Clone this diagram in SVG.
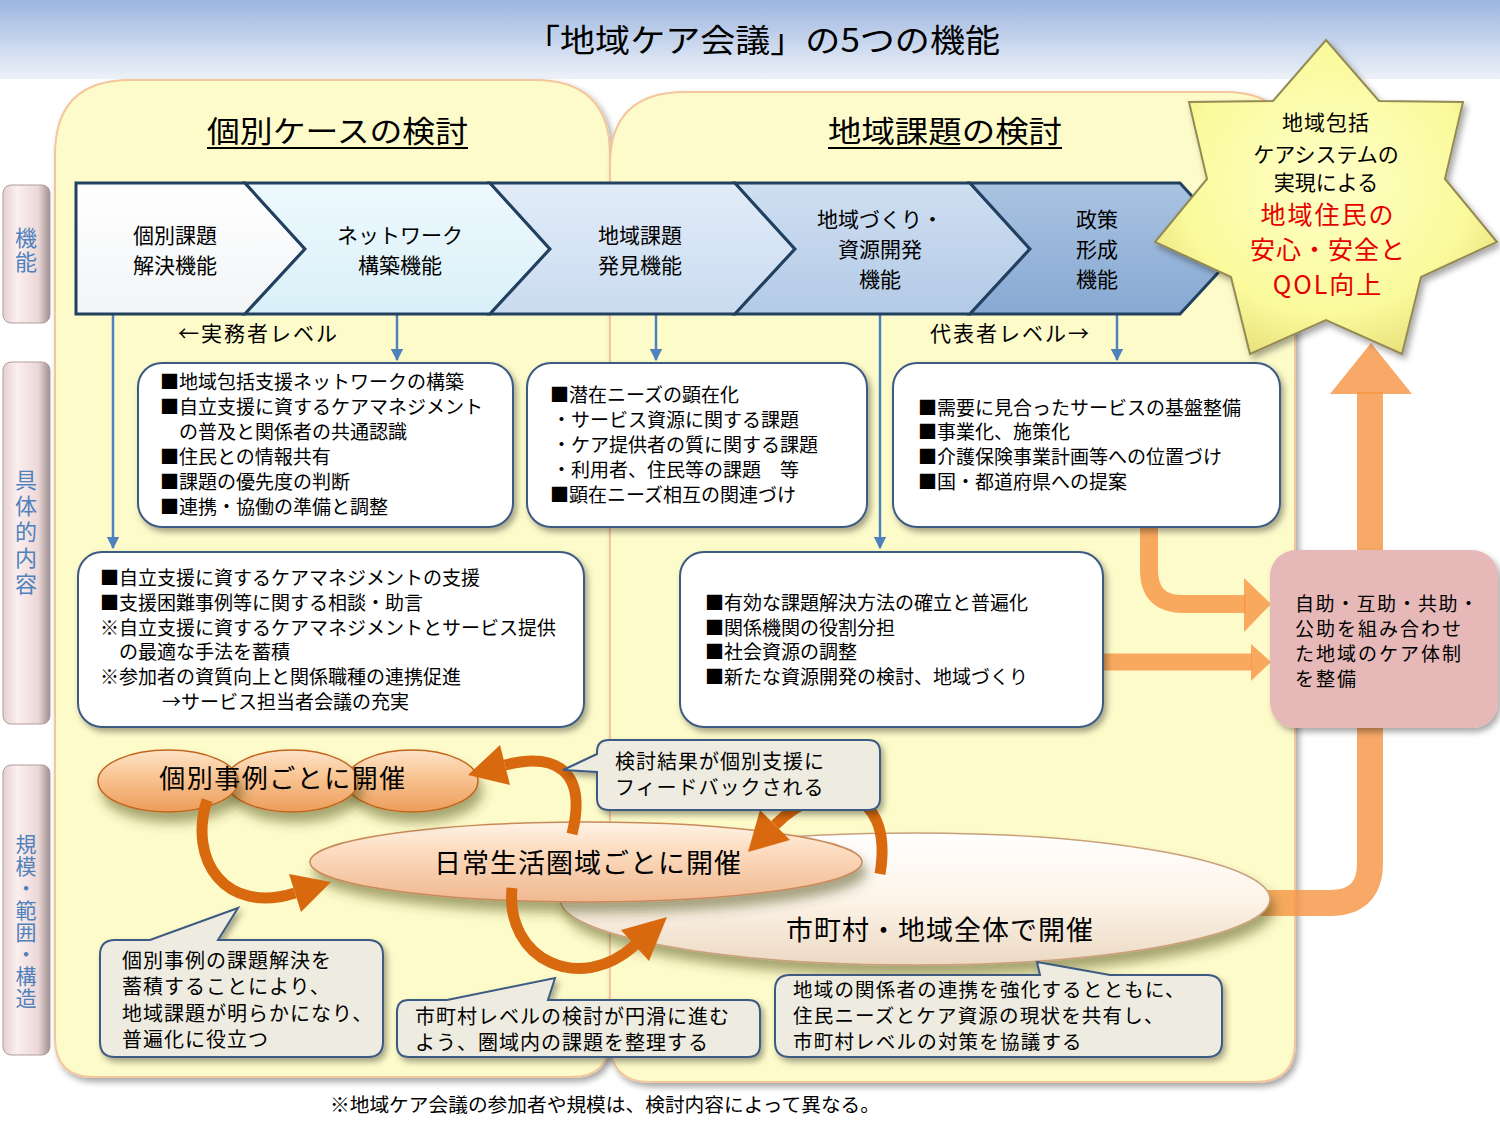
<svg xmlns="http://www.w3.org/2000/svg" width="1500" height="1125" viewBox="0 0 1500 1125">
<style>
.t{font-family:"Noto Sans CJK JP","Noto Sans",sans-serif;fill:#000}
.bx{font-size:19px}
.co{font-size:20px;letter-spacing:1px}
.ch{font-size:21px;text-anchor:middle}
.lb{font-family:"Noto Sans CJK JP","Noto Sans",sans-serif;fill:#4f81bd;writing-mode:vertical-rl}
.box{fill:#fff;stroke:#3c5a82;stroke-width:2;filter:url(#sh)}
.call{fill:#eeece1;stroke:#3c5a82;stroke-width:2;filter:url(#sh)}
.chev{stroke:#22405f;stroke-width:3;stroke-linejoin:miter}
.blue{stroke:#4f81bd;stroke-width:2.5;fill:none;marker-end:url(#ba)}
.og{fill:#f79646;opacity:0.82}
.ogs{stroke:#f79646;opacity:0.82;fill:none}
.ca{stroke:#d8690f;stroke-width:11;fill:none}
.cah{fill:#d8690f}
</style>
<defs>
<linearGradient id="band" x1="0" y1="0" x2="0" y2="1"><stop offset="0" stop-color="#9bb5df"/><stop offset="1" stop-color="#eef2f9"/></linearGradient>
<linearGradient id="lab" x1="0" y1="0" x2="1" y2="0"><stop offset="0" stop-color="#e4cfcf"/><stop offset="0.3" stop-color="#fbefef"/><stop offset="0.75" stop-color="#ecd7d7"/><stop offset="1" stop-color="#9e8f8f"/></linearGradient>
<linearGradient id="c1" x1="0" y1="0" x2="0" y2="1"><stop offset="0" stop-color="#ffffff"/><stop offset="1" stop-color="#f2f4f6"/></linearGradient>
<linearGradient id="c2" x1="0" y1="0" x2="0" y2="1"><stop offset="0" stop-color="#eef9fd"/><stop offset="1" stop-color="#d9f0f8"/></linearGradient>
<linearGradient id="c3" x1="0" y1="0" x2="0" y2="1"><stop offset="0" stop-color="#e2ecf8"/><stop offset="1" stop-color="#cadbf0"/></linearGradient>
<linearGradient id="c4" x1="0" y1="0" x2="0" y2="1"><stop offset="0" stop-color="#cfdff2"/><stop offset="1" stop-color="#b3cae6"/></linearGradient>
<linearGradient id="c5" x1="0" y1="0" x2="0" y2="1"><stop offset="0" stop-color="#aac3e2"/><stop offset="1" stop-color="#87a9d2"/></linearGradient>
<radialGradient id="star" cx="0.5" cy="0.45" r="0.6"><stop offset="0" stop-color="#ffffc8"/><stop offset="0.7" stop-color="#fafa9c"/><stop offset="1" stop-color="#e6e07a"/></radialGradient>
<linearGradient id="pe" x1="0" y1="0" x2="0" y2="1"><stop offset="0" stop-color="#fff3e6"/><stop offset="0.35" stop-color="#fcdcc0"/><stop offset="1" stop-color="#f0b890"/></linearGradient>
<linearGradient id="po" x1="0" y1="0" x2="0" y2="1"><stop offset="0" stop-color="#fde3c8"/><stop offset="0.4" stop-color="#f9c796"/><stop offset="1" stop-color="#ec9c5a"/></linearGradient>
<linearGradient id="cr" x1="0" y1="0" x2="0" y2="1"><stop offset="0" stop-color="#ffffff"/><stop offset="0.5" stop-color="#fdf4e8"/><stop offset="1" stop-color="#ecd9c4"/></linearGradient>
<filter id="sh" x="-10%" y="-10%" width="125%" height="130%"><feDropShadow dx="3" dy="4" stdDeviation="3" flood-color="#000" flood-opacity="0.35"/></filter>
<filter id="sh2" x="-10%" y="-20%" width="125%" height="160%"><feDropShadow dx="4" dy="10" stdDeviation="6" flood-color="#3a3a00" flood-opacity="0.45"/></filter>
<marker id="ba" viewBox="0 0 10 10" refX="9" refY="5" markerWidth="5" markerHeight="5" orient="auto"><path d="M0,0 L10,5 L0,10 Z" fill="#4f81bd"/></marker>
</defs>

<rect x="0" y="0" width="1500" height="1125" fill="#fff"/>
<rect x="0" y="0" width="1500" height="79" fill="url(#band)"/>
<text class="t" x="525" y="52" font-size="32" textLength="475" lengthAdjust="spacingAndGlyphs">「地域ケア会議」の5つの機能</text>

<g id="labels">
<g id="label-kino"><rect x="3" y="185" width="47" height="138" rx="8" fill="url(#lab)" stroke="#b39c9c"/>
<text class="lb" x="26" y="227" font-size="22" letter-spacing="2">機能</text></g>
<g id="label-gutai"><rect x="3" y="362" width="47" height="362" rx="8" fill="url(#lab)" stroke="#b39c9c"/>
<text class="lb" x="26" y="469" font-size="22" letter-spacing="4">具体的内容</text></g>
<g id="label-kibo"><rect x="3" y="765" width="47" height="290" rx="8" fill="url(#lab)" stroke="#b39c9c"/>
<text class="lb" x="26" y="834" font-size="21" letter-spacing="1">規模・範囲・構造</text></g>
</g>

<g id="panels">
<path d="M55,155 Q55,80 130,80 L535,80 Q610,80 610,155 L610,1038 Q610,1077 571,1077 L94,1077 Q55,1077 55,1038 Z" fill="#fefbca" stroke="#f3c69c" stroke-width="2" filter="url(#sh)"/>
<path d="M610,165 Q610,92 685,92 L1225,92 Q1295,92 1295,162 L1295,1042 Q1295,1082 1255,1082 L650,1082 Q610,1082 610,1042 Z" fill="#fefbca" stroke="#f3c69c" stroke-width="2" filter="url(#sh)"/>
<text class="t" x="207" y="142" font-size="30" textLength="261" lengthAdjust="spacingAndGlyphs">個別ケースの検討</text>
<line x1="207" y1="148" x2="468" y2="148" stroke="#000" stroke-width="2"/>
<text class="t" x="828" y="142" font-size="30" textLength="234" lengthAdjust="spacingAndGlyphs">地域課題の検討</text>
<line x1="828" y1="148" x2="1062" y2="148" stroke="#000" stroke-width="2"/>
</g>

<g id="connectors">
<g id="big-arrows">
<path class="ogs" stroke-width="18" d="M1149,527 L1149,570 Q1149,604 1183,604 L1246,604"/>
<polygon class="og" points="1244,578 1271,604 1244,632"/>
<path class="ogs" stroke-width="17" d="M1100,662 L1252,662"/>
<polygon class="og" points="1251,644 1271,662 1251,681"/>
<path class="ogs" stroke-width="26" d="M1250,903 L1330,903 Q1370,903 1370,863 L1370,392"/>
<polygon class="og" points="1330,394 1371,343 1412,394"/>
</g>
<line class="blue" x1="113" y1="314" x2="113" y2="548"/>
<line class="blue" x1="397" y1="314" x2="397" y2="360"/>
<line class="blue" x1="656" y1="314" x2="656" y2="360"/>
<line class="blue" x1="880" y1="314" x2="880" y2="548"/>
<line class="blue" x1="1117" y1="314" x2="1117" y2="360"/>
</g>

<g id="chevrons">
<g id="chev1"><polygon class="chev" fill="url(#c1)" points="76,183 245,183 305,249 245,314 76,314"/>
<text class="t ch" x="175" y="243">個別課題</text><text class="t ch" x="175" y="273">解決機能</text></g>
<g id="chev2"><polygon class="chev" fill="url(#c2)" points="245,183 490,183 550,249 490,314 245,314 305,249"/>
<text class="t ch" x="400" y="243">ネットワーク</text><text class="t ch" x="400" y="273">構築機能</text></g>
<g id="chev3"><polygon class="chev" fill="url(#c3)" points="490,183 735,183 795,249 735,314 490,314 550,249"/>
<text class="t ch" x="640" y="243">地域課題</text><text class="t ch" x="640" y="273">発見機能</text></g>
<g id="chev4"><polygon class="chev" fill="url(#c4)" points="735,183 970,183 1030,249 970,314 735,314 795,249"/>
<text class="t ch" x="880" y="227">地域づくり・</text><text class="t ch" x="880" y="257">資源開発</text><text class="t ch" x="880" y="287">機能</text></g>
<g id="chev5"><polygon class="chev" fill="url(#c5)" points="970,183 1180,183 1240,249 1180,314 970,314 1030,249"/>
<text class="t ch" x="1097" y="227">政策</text><text class="t ch" x="1097" y="257">形成</text><text class="t ch" x="1097" y="287">機能</text></g>
<text class="t" x="178" y="341" font-size="21" letter-spacing="2">←実務者レベル</text>
<text class="t" x="930" y="341" font-size="21" letter-spacing="2">代表者レベル→</text>
</g>

<g id="boxA"><rect class="box" x="138" y="363" width="375" height="164" rx="24"/>
<text class="t bx" x="160" y="389">■地域包括支援ネットワークの構築</text>
<text class="t bx" x="160" y="414">■自立支援に資するケアマネジメント</text>
<text class="t bx" x="179" y="439">の普及と関係者の共通認識</text>
<text class="t bx" x="160" y="464">■住民との情報共有</text>
<text class="t bx" x="160" y="489">■課題の優先度の判断</text>
<text class="t bx" x="160" y="514">■連携・協働の準備と調整</text></g>

<g id="boxB"><rect class="box" x="527" y="363" width="340" height="164" rx="24"/>
<text class="t bx" x="550" y="402">■潜在ニーズの顕在化</text>
<text class="t bx" x="552" y="427">・サービス資源に関する課題</text>
<text class="t bx" x="552" y="452">・ケア提供者の質に関する課題</text>
<text class="t bx" x="552" y="477">・利用者、住民等の課題　等</text>
<text class="t bx" x="550" y="502">■顕在ニーズ相互の関連づけ</text></g>

<g id="boxC"><rect class="box" x="893" y="363" width="387" height="164" rx="24"/>
<text class="t bx" x="918" y="415">■需要に見合ったサービスの基盤整備</text>
<text class="t bx" x="918" y="439">■事業化、施策化</text>
<text class="t bx" x="918" y="464">■介護保険事業計画等への位置づけ</text>
<text class="t bx" x="918" y="489">■国・都道府県への提案</text></g>

<g id="boxD"><rect class="box" x="78" y="552" width="506" height="175" rx="24"/>
<text class="t bx" x="100" y="585">■自立支援に資するケアマネジメントの支援</text>
<text class="t bx" x="100" y="610">■支援困難事例等に関する相談・助言</text>
<text class="t bx" x="100" y="635">※自立支援に資するケアマネジメントとサービス提供</text>
<text class="t bx" x="119" y="659">の最適な手法を蓄積</text>
<text class="t bx" x="100" y="684">※参加者の資質向上と関係職種の連携促進</text>
<text class="t bx" x="162" y="709">→サービス担当者会議の充実</text></g>

<g id="boxE"><rect class="box" x="680" y="552" width="423" height="175" rx="24"/>
<text class="t bx" x="705" y="610">■有効な課題解決方法の確立と普遍化</text>
<text class="t bx" x="705" y="635">■関係機関の役割分担</text>
<text class="t bx" x="705" y="659">■社会資源の調整</text>
<text class="t bx" x="705" y="684">■新たな資源開発の検討、地域づくり</text></g>

<g id="boxF"><rect x="1270" y="550" width="228" height="178" rx="26" fill="#e6b9b8" filter="url(#sh)"/>
<text class="t" x="1295" y="611" font-size="19" letter-spacing="1.5">自助・互助・共助・</text>
<text class="t" x="1295" y="636" font-size="19" letter-spacing="2">公助を組み合わせ</text>
<text class="t" x="1295" y="661" font-size="19" letter-spacing="2">た地域のケア体制</text>
<text class="t" x="1295" y="686" font-size="19" letter-spacing="2">を整備</text></g>

<g id="ellipse-shichoson"><ellipse cx="915" cy="899" rx="355" ry="66" fill="url(#cr)" stroke="#c9a07a" stroke-width="1.5" filter="url(#sh2)"/>
<text class="t" x="940" y="940" font-size="27" letter-spacing="1" text-anchor="middle">市町村・地域全体で開催</text></g>

<g id="ellipse-nichijo"><ellipse cx="586" cy="862" rx="276" ry="40" fill="url(#pe)" stroke="#c98a5a" stroke-width="1.5" filter="url(#sh2)"/>
<text class="t" x="588" y="873" font-size="27" letter-spacing="1" text-anchor="middle">日常生活圏域ごとに開催</text></g>

<g id="ellipse-kobetsu">
<ellipse cx="412" cy="781" rx="66" ry="31" fill="url(#po)" stroke="#c0661c" stroke-width="1.5" filter="url(#sh2)"/>
<ellipse cx="292" cy="781" rx="66" ry="31" fill="url(#po)" stroke="#c0661c" stroke-width="1.5" filter="url(#sh2)"/>
<ellipse cx="168" cy="781" rx="70" ry="31" fill="url(#po)" stroke="#c0661c" stroke-width="1.5" filter="url(#sh2)"/>
<text class="t" x="283" y="788" font-size="26" letter-spacing="1.5" text-anchor="middle">個別事例ごとに開催</text></g>

<g id="cycle-arrows">
<path class="ca" d="M572,834 C588,770 555,752 505,765"/>
<polygon class="cah" points="468,775 510,785 500,745"/>
<path class="ca" d="M207,800 C188,860 225,915 295,893"/>
<polygon class="cah" points="331,882 301,912 289,874"/>
<path class="ca" d="M512,888 C505,960 580,995 635,945"/>
<polygon class="cah" points="667,917 649,961 621,930"/>
<path class="ca" d="M880,874 C895,785 825,775 775,825"/>
<polygon class="cah" points="748,852 790,840 760,810"/>
</g>

<g id="callout-feedback"><path class="call" d="M609,740 H868 Q880,740 880,752 V798 Q880,810 868,810 H609 Q597,810 597,798 V772 L563,770 L597,754 V752 Q597,740 609,740 Z"/>
<text class="t co" x="615" y="769">検討結果が個別支援に</text>
<text class="t co" x="615" y="795">フィードバックされる</text></g>

<g id="callout-kobetsu"><path class="call" d="M115,940 H150 L238,908 L218,940 H368 Q383,940 383,955 V1042 Q383,1057 368,1057 H115 Q100,1057 100,1042 V955 Q100,940 115,940 Z"/>
<text class="t co" x="122" y="968">個別事例の課題解決を</text>
<text class="t co" x="122" y="994">蓄積することにより、</text>
<text class="t co" x="122" y="1021">地域課題が明らかになり、</text>
<text class="t co" x="122" y="1047">普遍化に役立つ</text></g>

<g id="callout-nichijo"><path class="call" d="M409,1000 H447 L555,978 L548,1000 H748 Q760,1000 760,1012 V1045 Q760,1057 748,1057 H409 Q397,1057 397,1045 V1012 Q397,1000 409,1000 Z"/>
<text class="t co" x="415" y="1024">市町村レベルの検討が円滑に進む</text>
<text class="t co" x="415" y="1050">よう、圏域内の課題を整理する</text></g>

<g id="callout-shichoson"><path class="call" d="M790,975 H1040 L1037,962 L1110,975 H1207 Q1222,975 1222,990 V1042 Q1222,1057 1207,1057 H790 Q775,1057 775,1042 V990 Q775,975 790,975 Z"/>
<text class="t" x="793" y="997" font-size="19.5" letter-spacing="1.2">地域の関係者の連携を強化するとともに、</text>
<text class="t" x="793" y="1023" font-size="19.5" letter-spacing="1.2">住民ニーズとケア資源の現状を共有し、</text>
<text class="t" x="793" y="1049" font-size="19.5" letter-spacing="1.2">市町村レベルの対策を協議する</text></g>

<g id="star-goal"><polygon points="1326,40 1379,101 1463,102 1445,179 1497,242 1421,277 1402,354 1326,320 1250,354 1231,277 1155,242 1207,179 1189,102 1273,101" fill="url(#star)" stroke="#948a54" stroke-width="2" filter="url(#sh)"/>
<text class="t" x="1326" y="130" font-size="21" letter-spacing="1" text-anchor="middle">地域包括</text>
<text class="t" x="1326" y="162" font-size="21" text-anchor="middle">ケアシステムの</text>
<text class="t" x="1326" y="190" font-size="21" text-anchor="middle">実現による</text>
<text x="1328" y="224" font-size="25" letter-spacing="2" text-anchor="middle" fill="#e60000" font-family="Noto Sans CJK JP, Noto Sans, sans-serif">地域住民の</text>
<text x="1328" y="259" font-size="25" letter-spacing="1" text-anchor="middle" fill="#e60000" font-family="Noto Sans CJK JP, Noto Sans, sans-serif">安心・安全と</text>
<text x="1328" y="294" font-size="25" letter-spacing="2" text-anchor="middle" fill="#e60000" font-family="Noto Sans CJK JP, Noto Sans, sans-serif">QOL向上</text></g>

<text class="t" x="330" y="1112" font-size="19" textLength="550" lengthAdjust="spacingAndGlyphs">※地域ケア会議の参加者や規模は、検討内容によって異なる。</text>
</svg>
